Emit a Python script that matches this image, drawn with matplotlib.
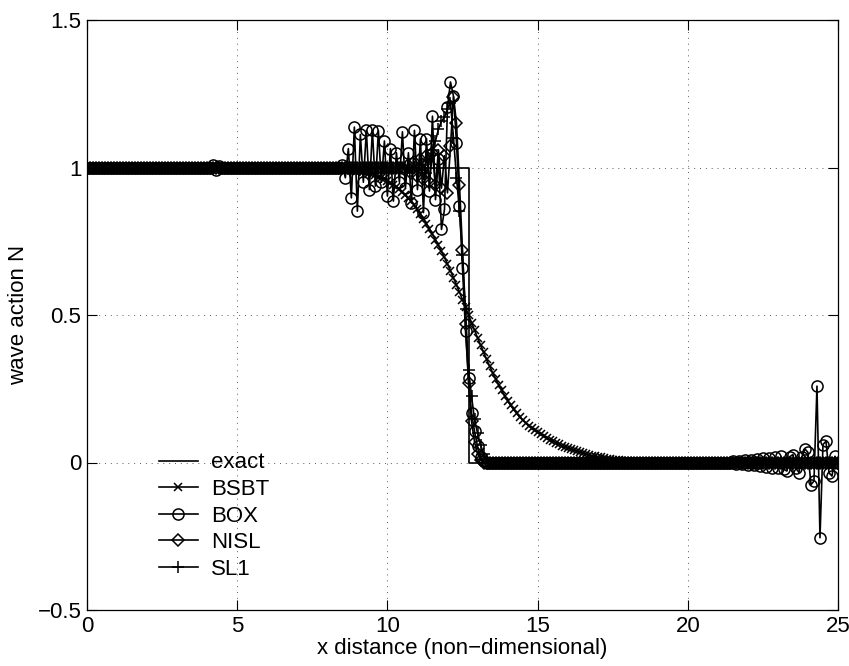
import numpy as np
import matplotlib
matplotlib.use("Agg")
import matplotlib.pyplot as plt

plt.rcParams['font.family'] = ['Liberation Sans', 'DejaVu Sans']
plt.rcParams['axes.unicode_minus'] = True

# grid of the computed solutions
x_grid = np.linspace(0, 25, 251)

# exact step solution
x_exact = [0.0, 12.7, 12.7, 25.0]
y_exact = [1.0, 1.0, 0.0, 0.0]

# BSBT: smooth diffused front, starting at x=7.8
bsbt_start = 7.8
bsbt_front = [
    1.000, .999, .999, .998, .998, .997, .996, .995, .994, .993,
    .992, .991, .989, .987, .985, .983, .980, .977, .973, .969,
    .965, .960, .955, .949, .942, .935, .927, .918, .908, .897,
    .885, .872, .858, .843, .827, .810, .792, .774, .755, .736,
    .716, .695, .673, .650, .626, .602, .577, .552, .526, .500,
    .474, .448, .423, .398, .374, .350, .327, .305, .284, .264,
    .245, .227, .210, .194, .180, .167, .155, .144, .134, .125,
    .117, .109, .102, .095, .089, .083, .077, .072, .067, .062,
    .057, .053, .049, .045, .041, .038, .035, .032, .029, .026,
    .023, .021, .019, .017, .015, .013, .011, .010, .008, .007,
    .006, .005, .004, .003, .002, .002, .001, .001, .000,
]

# BOX: small blip near x=4.2, oscillating front, noisy tail
box_blip_start = 4.2
box_blip = [1.008, 0.99, 1.005]
box_front_start = 8.4
box_front = [
    1.00, 1.01, 0.965, 1.064, 0.897, 1.137,
    0.852, 1.112, 0.95, 1.126, 0.925, 1.126, 0.937, 1.125, 0.95, 1.09,
    0.903, 1.064, 0.886, 1.05, 0.95, 1.121, 0.93, 1.05, 0.88, 1.126,
    0.925, 1.097, 0.847, 1.098, 0.92, 1.174, 0.891, 1.03, 0.79, 0.858,
    1.204, 1.29, 1.242, 1.084, 0.869, 0.66, 0.445, 0.287, 0.168, 0.106,
    0.055, 0.02, 0.005, 0.0,
]
box_tail_start = 21.5
box_tail = [
    0.004, -0.004, 0.006, -0.006, 0.008, -0.008, 0.010, -0.010, 0.012,
    -0.012, 0.014, -0.015, 0.016, -0.018, 0.019, -0.020, 0.021, -0.023,
    -0.029, 0.02, 0.027, -0.02, -0.034, 0.02, 0.046, 0.034, -0.075,
    -0.063, 0.259, -0.255, 0.061, 0.072, -0.035, -0.046, 0.021, 0.0,
]

# NISL
nisl_start = 10.5
nisl_front = [
    1.00, 0.99, 1.01, 0.98, 1.02,
    0.97, 1.03, 0.96, 1.04, 0.95, 1.05, 0.94, 1.06, 0.93, 1.04,
    0.914, 1.072, 1.24, 1.15, 0.94, 0.72, 0.47, 0.27, 0.14, 0.07,
    0.03, 0.01, 0.0,
]

# SL1
sl1_start = 11.0
sl1_front = [
    1.00, 0.99, 1.01, 0.98, 1.03, 1.06, 1.09, 1.13, 1.157, 1.17,
    1.20, 1.22, 1.10, 0.966, 0.852, 0.705, 0.52, 0.315, 0.225, 0.146,
    0.10, 0.06, 0.03, 0.01, 0.0,
]


def build(segments, front_start, front):
    # ones before the front, measured segments, zeros after
    y = np.ones_like(x_grid)
    for start, vals in segments:
        i0 = int(round(start * 10))
        y[i0:i0 + len(vals)] = vals
    i_end = int(round(front_start * 10)) + len(front)
    y[i_end:] = 0.0
    return y


bsbt = build([(bsbt_start, bsbt_front)], bsbt_start, bsbt_front)
box = build([(box_blip_start, box_blip), (box_front_start, box_front)],
            box_front_start, box_front)
i_tail = int(round(box_tail_start * 10))
box[i_tail:i_tail + len(box_tail)] = box_tail
nisl = build([(nisl_start, nisl_front)], nisl_start, nisl_front)
sl1 = build([(sl1_start, sl1_front)], sl1_start, sl1_front)

fig = plt.figure(figsize=(8.49, 6.66), dpi=100)
ax = fig.add_axes([87/849, 1 - 610/666, (838-87)/849, (610-20)/666])

lw = 1.2
mw = 1.1
ax.plot(x_exact, y_exact, color='k', lw=lw, label='exact')
ax.plot(x_grid, bsbt, color='k', lw=lw, marker='x', ms=6, mew=mw, label='BSBT')
ax.plot(x_grid, box, color='k', lw=lw, marker='o', ms=8, mfc='none', mew=mw, label='BOX')
ax.plot(x_grid, nisl, color='k', lw=lw, marker='D', ms=6, mfc='none', mew=mw, label='NISL')
ax.plot(x_grid, sl1, color='k', lw=lw, marker='+', ms=9, mew=mw, label='SL1')

fs = 16
ax.set_xlim(0, 25)
ax.set_ylim(-0.5, 1.5)
ax.set_xticks([0, 5, 10, 15, 20, 25])
ax.set_yticks([-0.5, 0, 0.5, 1, 1.5])
ax.set_xticklabels(['0', '5', '10', '15', '20', '25'])
ax.set_yticklabels(['\u22120.5', '0', '0.5', '1', '1.5'])
ax.tick_params(direction='in', length=7, width=0.8, labelsize=fs,
               top=True, right=True, pad=4)
ax.grid(True, color='0.35', linestyle=(0, (1, 5)), linewidth=0.7)
for s in ax.spines.values():
    s.set_linewidth(0.9)

ax.set_xlabel('x distance (non\u2212dimensional)', fontsize=fs, labelpad=1)
ax.set_ylabel('wave action N', fontsize=fs, labelpad=6)

ax.legend(loc='lower left', bbox_to_anchor=(0.075, 0.025), frameon=False,
          fontsize=fs, numpoints=1, handlelength=1.75, handletextpad=0.6,
          labelspacing=0.25, borderpad=0.2)

fig.savefig('out.png', dpi=100)
